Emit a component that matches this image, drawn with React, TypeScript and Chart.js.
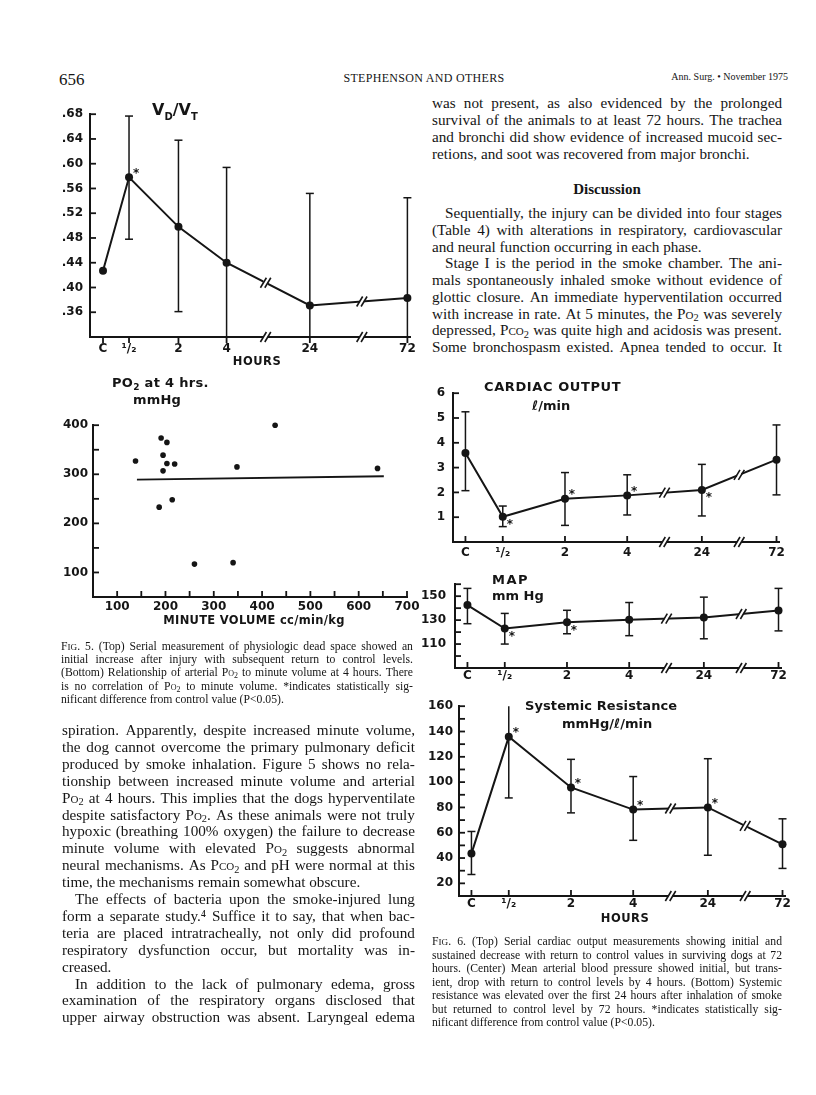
import React, { useEffect, useRef } from 'react';
import { Chart, registerables } from 'chart.js';

Chart.register(...registerables);

const INK = '#151515';
const SANS = '"DejaVu Sans", sans-serif';
const SERIF = '"Liberation Serif", "Times New Roman", serif';

// ---------------- data ----------------
const hourLabels = ['C', '¹/₂', '2', '4', '24', '72'];

// Fig 5 top: VD/VT
const vdSlots = [1, 3, 6.8, 10.5, 16.9, 24.4];
const vdBreaks = [13.5, 20.9];
const vdMean = [0.427, 0.578, 0.498, 0.44, 0.371, 0.383];
const vdHigh = [null, 0.677, 0.638, 0.594, 0.552, 0.545];
const vdLow = [null, 0.478, 0.361, 0.286, 0.19, 0.221];
const vdSig = ['', 'ur', '', '', '', ''];
const vdTicks = [0.36, 0.4, 0.44, 0.48, 0.52, 0.56, 0.6, 0.64, 0.68];

// Fig 5 bottom: PO2 vs minute volume
const minuteVolume = [138, 191, 203, 195, 203, 219, 195, 214, 187, 260, 340, 348, 427, 639];
const po2At4h = [327, 374, 365, 339, 322, 321, 307, 248, 233, 117, 120, 315, 400, 312];
const fitMinuteVolume = [141, 652];
const fitPo2 = [289, 296];
const mvTicks = [100, 200, 300, 400, 500, 600, 700];
const mvMarks = [100, 150, 200, 250, 300, 350, 400, 450, 500, 550, 600, 650, 700];
const po2Ticks = [100, 200, 300, 400];
const po2Marks = [100, 150, 200, 250, 300, 350, 400];

// Fig 6 shared hour axis
const hourSlots = [1, 4, 9, 14, 20, 26];
const hourBreaks = [17, 23];

// Cardiac output
const coMean = [3.59, 1.02, 1.74, 1.88, 2.1, 3.32];
const coHigh = [5.25, 1.45, 2.8, 2.71, 3.13, 4.72];
const coLow = [2.07, 0.62, 0.67, 1.09, 1.05, 1.9];
const coSig = ['', 'lr', 'ur', 'ur', 'lr', ''];
const coTicks = [1, 2, 3, 4, 5, 6];

// MAP
const mapMean = [142.6, 123, 128.3, 130.4, 132.2, 138];
const mapHigh = [156.5, 135.6, 138.2, 144.7, 149.2, 156.5];
const mapLow = [127, 110, 118.6, 117, 114.4, 121];
const mapSig = ['', 'lr', 'lr', '', '', ''];
const mapTicks = [110, 130, 150];
const mapMarks = [100, 110, 120, 130, 140, 150, 160];

// Systemic resistance
const srMean = [43.5, 135.8, 95.8, 78.3, 80, 50.8];
const srHigh = [61, 184, 118, 104.4, 118.5, 71];
const srLow = [27, 87.5, 75.7, 54, 42.2, 31.8];
const srSig = ['', 'ur', 'ur', 'ur', 'ur', ''];
const srTicks = [20, 40, 60, 80, 100, 120, 140, 160];
const srMarks = [20, 30, 40, 50, 60, 70, 80, 90, 100, 110, 120, 130, 140, 150, 160];

// ---------------- text ----------------
const rightTop = [
  'was not present, as also evidenced by the prolonged',
  'survival of the animals to at least 72 hours. The trachea',
  'and bronchi did show evidence of increased mucoid sec-',
  'retions, and soot was recovered from major bronchi.\n',
];
const rightDisc = [
  '\tSequentially, the injury can be divided into four stages',
  '(Table 4) with alterations in respiratory, cardiovascular',
  'and neural function occurring in each phase.\n',
  '\tStage I is the period in the smoke chamber. The ani-',
  'mals spontaneously inhaled smoke without evidence of',
  'glottic closure. An immediate hyperventilation occurred',
  'with increase in rate. At 5 minutes, the Po₂ was severely',
  'depressed, Pco₂ was quite high and acidosis was present.',
  'Some bronchospasm existed. Apnea tended to occur. It',
];
const leftBody = [
  'spiration. Apparently, despite increased minute volume,',
  'the dog cannot overcome the primary pulmonary deficit',
  'produced by smoke inhalation. Figure 5 shows no rela-',
  'tionship between increased minute volume and arterial',
  'Po₂ at 4 hours. This implies that the dogs hyperventilate',
  'despite satisfactory Po₂. As these animals were not truly',
  'hypoxic (breathing 100% oxygen) the failure to decrease',
  'minute volume with elevated Po₂ suggests abnormal',
  'neural mechanisms. As Pco₂ and pH were normal at this',
  'time, the mechanisms remain somewhat obscure.\n',
  '\tThe effects of bacteria upon the smoke-injured lung',
  'form a separate study.⁴ Suffice it to say, that when bac-',
  'teria are placed intratracheally, not only did profound',
  'respiratory dysfunction occur, but mortality was in-',
  'creased.\n',
  '\tIn addition to the lack of pulmonary edema, gross',
  'examination of the respiratory organs disclosed that',
  'upper airway obstruction was absent. Laryngeal edema',
];
const fig5Caption = [
  'FIG. 5. (Top) Serial measurement of physiologic dead space showed an',
  'initial increase after injury with subsequent return to control levels.',
  '(Bottom) Relationship of arterial Po₂ to minute volume at 4 hours. There',
  'is no correlation of Po₂ to minute volume. *indicates statistically sig-',
  'nificant difference from control value (P<0.05).\n',
];
const fig6Caption = [
  'FIG. 6. (Top) Serial cardiac output measurements showing initial and',
  'sustained decrease with return to control values in surviving dogs at 72',
  'hours. (Center) Mean arterial blood pressure showed initial, but trans-',
  'ient, drop with return to control levels by 4 hours. (Bottom) Systemic',
  'resistance was elevated over the first 24 hours after inhalation of smoke',
  'but returned to control level by 72 hours. *indicates statistically sig-',
  'nificant difference from control value (P<0.05).\n',
];

// ---------------- chart helpers ----------------
function seg(ctx: any, x1: number, y1: number, x2: number, y2: number) {
  ctx.beginPath();
  ctx.moveTo(x1, y1);
  ctx.lineTo(x2, y2);
  ctx.stroke();
}

function breakMark(ctx: any, x: number, y: number) {
  ctx.save();
  ctx.fillStyle = '#fff';
  ctx.fillRect(x - 2, y - 3, 4, 6);
  ctx.strokeStyle = INK;
  ctx.lineWidth = 1.6;
  for (const o of [-2.2, 2.2]) seg(ctx, x + o - 3, y + 5, x + o + 3, y - 5);
  ctx.restore();
}

type DecorSpec = {
  xKey?: number[];
  mean?: number[];
  hi?: (number | null)[];
  lo?: (number | null)[];
  sig?: string[];
  breaks?: number[];
  xMarks: number[];
  xMarkDir: number;
  yMarks: number[];
};

function makeDecor(d: DecorSpec) {
  return {
    id: 'decor',
    beforeDatasetsDraw(chart: any) {
      const { ctx, chartArea: a } = chart;
      const xs = chart.scales.x;
      const ys = chart.scales.y;
      if (!d.hi || !d.lo || !d.xKey) return;
      ctx.save();
      ctx.strokeStyle = INK;
      ctx.lineWidth = 1.5;
      d.xKey.forEach((xv, i) => {
        const h = d.hi![i];
        const l = d.lo![i];
        if (h == null || l == null) return;
        const px = xs.getPixelForValue(xv);
        const ph = ys.getPixelForValue(h);
        const pl = ys.getPixelForValue(l);
        const top = Math.max(ph, a.top);
        const bot = Math.min(pl, a.bottom);
        seg(ctx, px, top, px, bot);
        if (ph >= a.top - 0.5) seg(ctx, px - 4, top, px + 4, top);
        if (pl <= a.bottom + 0.5) seg(ctx, px - 4, bot, px + 4, bot);
      });
      ctx.restore();
    },
    afterDatasetsDraw(chart: any) {
      const { ctx, chartArea: a } = chart;
      const xs = chart.scales.x;
      const ys = chart.scales.y;
      ctx.save();
      ctx.strokeStyle = INK;
      ctx.lineWidth = 1.8;
      d.yMarks.forEach((v) => {
        const py = ys.getPixelForValue(v);
        seg(ctx, a.left, py, a.left + 6, py);
      });
      d.xMarks.forEach((v) => {
        const px = xs.getPixelForValue(v);
        seg(ctx, px, a.bottom, px, a.bottom + 6 * d.xMarkDir);
      });
      ctx.restore();
      if (d.breaks && d.xKey && d.mean) {
        const k = d.xKey;
        const m = d.mean;
        d.breaks.forEach((b) => {
          const px = xs.getPixelForValue(b);
          breakMark(ctx, px, a.bottom);
          for (let i = 0; i < k.length - 1; i++) {
            if (k[i] < b && b < k[i + 1]) {
              const t = (b - k[i]) / (k[i + 1] - k[i]);
              const yv = m[i] + t * (m[i + 1] - m[i]);
              breakMark(ctx, px, ys.getPixelForValue(yv));
            }
          }
        });
      }
      if (d.sig && d.xKey && d.mean) {
        ctx.save();
        ctx.fillStyle = INK;
        ctx.font = `bold 12px ${SANS}`;
        ctx.textAlign = 'center';
        ctx.textBaseline = 'alphabetic';
        d.sig.forEach((s, i) => {
          if (!s) return;
          const px = xs.getPixelForValue(d.xKey![i]);
          const py = ys.getPixelForValue(d.mean![i]);
          const cy = s === 'ur' ? py - 7 : py + 5;
          ctx.fillText('*', px + 7, cy + 6.5);
        });
        ctx.restore();
      }
    },
  };
}

type AxisDef = { min: number; max: number; ticks: number[]; fmt: (v: number) => string; size: number; pad: number; font?: number };

function scaleCfg(axis: 'x' | 'y', a: AxisDef) {
  return {
    type: 'linear',
    position: axis === 'x' ? 'bottom' : 'left',
    min: a.min,
    max: a.max,
    afterBuildTicks: (s: any) => {
      s.ticks = a.ticks.map((v) => ({ value: v }));
    },
    afterFit: (s: any) => {
      if (axis === 'x') s.height = a.size;
      else s.width = a.size;
    },
    ticks: {
      callback: (v: any) => a.fmt(Number(v)),
      font: { family: SANS, size: a.font || 12, weight: 'bold' },
      color: INK,
      padding: a.pad,
      autoSkip: false,
      maxRotation: 0,
      minRotation: 0,
    },
    grid: { display: true, drawOnChartArea: false, drawTicks: false },
    border: { display: true, color: INK, width: 2 },
  };
}

function baseOptions(padding: any, x: AxisDef, y: AxisDef) {
  return {
    responsive: false,
    animation: false,
    events: [],
    layout: { padding },
    plugins: { legend: { display: false }, tooltip: { enabled: false } },
    scales: { x: scaleCfg('x', x), y: scaleCfg('y', y) },
  };
}

const hourFmt = (slots: number[]) => (v: number) => {
  const i = slots.indexOf(v);
  return i >= 0 ? hourLabels[i] : '';
};

function lineDataset(slots: number[], mean: number[]) {
  return {
    data: slots.map((x, i) => ({ x, y: mean[i] })),
    borderColor: INK,
    backgroundColor: INK,
    borderWidth: 2,
    pointRadius: 4,
    pointBackgroundColor: INK,
    pointBorderWidth: 0,
    tension: 0,
    clip: false,
  };
}

function hourChart(opts: {
  mean: number[]; hi: (number | null)[]; lo: (number | null)[]; sig: string[];
  slots: number[]; breaks: number[]; xmax: number; xsize: number; xpad: number;
  ymin: number; ymax: number; yticks: number[]; ymarks: number[]; yfmt: (v: number) => string;
  ysize: number; ypad: number; padding: any; xdir: number;
}) {
  return () => ({
    type: 'line',
    data: { datasets: [lineDataset(opts.slots, opts.mean)] },
    options: baseOptions(
      opts.padding,
      { min: 0, max: opts.xmax, ticks: opts.slots, fmt: hourFmt(opts.slots), size: opts.xsize, pad: opts.xpad },
      { min: opts.ymin, max: opts.ymax, ticks: opts.yticks, fmt: opts.yfmt, size: opts.ysize, pad: opts.ypad }
    ),
    plugins: [
      makeDecor({
        xKey: opts.slots, mean: opts.mean, hi: opts.hi, lo: opts.lo, sig: opts.sig,
        breaks: opts.breaks, xMarks: opts.slots, xMarkDir: opts.xdir, yMarks: opts.ymarks,
      }),
    ],
  });
}

const vdChart = hourChart({
  mean: vdMean, hi: vdHigh, lo: vdLow, sig: vdSig, slots: vdSlots, breaks: vdBreaks,
  xmax: 24.6, xsize: 35, xpad: 5, ymin: 0.32, ymax: 0.68, yticks: vdTicks, ymarks: vdTicks,
  yfmt: (v) => v.toFixed(2).slice(1), ysize: 50, ypad: 7,
  padding: { top: 12, right: 15, left: 0, bottom: 0 }, xdir: 1,
});

const coChart = hourChart({
  mean: coMean, hi: coHigh, lo: coLow, sig: coSig, slots: hourSlots, breaks: hourBreaks,
  xmax: 26.2, xsize: 18, xpad: 3.5, ymin: 0, ymax: 6, yticks: coTicks, ymarks: coTicks,
  yfmt: (v) => String(v), ysize: 33, ypad: 8,
  padding: { top: 11, right: 16, left: 0, bottom: 0 }, xdir: -1,
});

const mapChart = hourChart({
  mean: mapMean, hi: mapHigh, lo: mapLow, sig: mapSig, slots: hourSlots, breaks: hourBreaks,
  xmax: 26.2, xsize: 22, xpad: 0.5, ymin: 90, ymax: 160, yticks: mapTicks, ymarks: mapMarks,
  yfmt: (v) => String(v), ysize: 35, ypad: 9,
  padding: { top: 12, right: 14, left: 0, bottom: 0 }, xdir: -1,
});

const srChart = hourChart({
  mean: srMean, hi: srHigh, lo: srLow, sig: srSig, slots: hourSlots, breaks: hourBreaks,
  xmax: 26.2, xsize: 19, xpad: 0.5, ymin: 10, ymax: 160, yticks: srTicks, ymarks: srMarks,
  yfmt: (v) => String(v), ysize: 39, ypad: 6,
  padding: { top: 12, right: 10, left: 0, bottom: 0 }, xdir: -1,
});

const po2Chart = () => ({
  type: 'scatter',
  data: {
    datasets: [
      {
        data: minuteVolume.map((x, i) => ({ x, y: po2At4h[i] })),
        pointRadius: 2.8,
        pointBackgroundColor: INK,
        pointBorderWidth: 0,
        clip: false,
      },
      {
        type: 'line',
        data: fitMinuteVolume.map((x, i) => ({ x, y: fitPo2[i] })),
        borderColor: INK,
        borderWidth: 1.8,
        pointRadius: 0,
        showLine: true,
        clip: false,
      },
    ],
  },
  options: baseOptions(
    { top: 10, right: 18, left: 0, bottom: 0 },
    { min: 50, max: 700, ticks: mvTicks, fmt: (v) => String(v), size: 26, pad: 3 },
    { min: 50, max: 400, ticks: po2Ticks, fmt: (v) => String(v), size: 53, pad: 5 }
  ),
  plugins: [makeDecor({ xMarks: mvMarks, xMarkDir: -1, yMarks: po2Marks })],
});

// ---------------- components ----------------
function ChartBox({ left, top, width, height, make }: any) {
  const ref = useRef<HTMLCanvasElement>(null);
  useEffect(() => {
    const c = new Chart(ref.current as HTMLCanvasElement, make());
    return () => c.destroy();
  }, []);
  return (
    <canvas
      ref={ref}
      width={width}
      height={height}
      style={{ position: 'absolute', left, top, width, height }}
    />
  );
}

function Label({ x, y, children, size = 13, anchor = 'left', ls = 0, weight = 700, family = SANS }: any) {
  const tx = anchor === 'center' ? '-50%' : anchor === 'right' ? '-100%' : '0';
  return (
    <div
      style={{
        position: 'absolute', left: x, top: y, transform: `translate(${tx}, -50%)`,
        fontFamily: family, fontSize: size, fontWeight: weight, letterSpacing: ls,
        lineHeight: 1, whiteSpace: 'nowrap', color: INK,
      }}
    >
      {children}
    </div>
  );
}

function renderToken(tok: string, key: number) {
  const m = tok.match(/^(.*?)P(co|o)₂(.*)$/);
  if (m) {
    return (
      <span key={key}>
        {m[1]}P<span style={{ fontVariant: 'small-caps' }}>{m[2]}</span>
        <span style={{ fontSize: '0.68em', position: 'relative', top: '0.25em' }}>2</span>
        {m[3]}
      </span>
    );
  }
  if (tok === 'FIG.') {
    return (
      <span key={key}>
        F<span style={{ fontSize: '0.78em' }}>IG</span>.
      </span>
    );
  }
  return <span key={key}>{tok}</span>;
}

function TextBlock({ lines, x, w, y0, dy, size, indent = 13, weight = 400 }: any) {
  return (
    <>
      {lines.map((raw: string, li: number) => {
        let s = raw;
        let ind = 0;
        let last = false;
        if (s.startsWith('\t')) { ind = indent; s = s.slice(1); }
        if (s.endsWith('\n')) { last = true; s = s.slice(0, -1); }
        const toks = s.split(' ');
        const lh = Math.round(size * 1.2);
        const style: any = {
          position: 'absolute', left: x + ind, width: w - ind, top: y0 + li * dy - lh / 2 - 1,
          height: lh, lineHeight: lh + 'px', fontSize: size, fontFamily: SERIF, color: INK,
          whiteSpace: 'nowrap', fontWeight: weight,
        };
        if (last) {
          return (
            <div key={li} style={style}>
              {toks.map((t, i) => (
                <React.Fragment key={i}>{i ? ' ' : ''}{renderToken(t, i)}</React.Fragment>
              ))}
            </div>
          );
        }
        return (
          <div key={li} style={{ ...style, display: 'flex', justifyContent: 'space-between' }}>
            {toks.map((t, i) => renderToken(t, i))}
          </div>
        );
      })}
    </>
  );
}

export default function App() {
  return (
    <div
      style={{
        position: 'absolute', left: 0, top: 0, width: 816, height: 1095,
        background: '#fff', overflow: 'hidden', color: INK,
      }}
    >
      {/* running head */}
      <Label x={59} y={79} size={17} weight={400} family={SERIF}>656</Label>
      <Label x={424} y={78} size={12} weight={400} family={SERIF} anchor="center" ls={0.3}>
        STEPHENSON AND OTHERS
      </Label>
      <Label x={788} y={77} size={10} weight={400} family={SERIF} anchor="right">
        Ann. Surg. • November 1975
      </Label>

      {/* Fig 5 top */}
      <ChartBox left={40} top={100} width={385} height={272} make={vdChart} />
      <Label x={152} y={110} size={16}>
        V<span style={{ fontSize: 10, position: 'relative', top: 5 }}>D</span>/V
        <span style={{ fontSize: 10, position: 'relative', top: 5 }}>T</span>
      </Label>
      <Label x={257} y={362} size={11.5} anchor="center" ls={0.5}>HOURS</Label>

      {/* Fig 5 bottom */}
      <ChartBox left={40} top={413} width={385} height={210} make={po2Chart} />
      <Label x={112} y={382} size={13} ls={0.3}>
        PO<span style={{ fontSize: 9, position: 'relative', top: 3 }}>2</span> at 4 hrs.
      </Label>
      <Label x={133} y={399} size={13} ls={0.2}>mmHg</Label>
      <Label x={254} y={621} size={11.5} anchor="center" ls={0.3}>MINUTE VOLUME cc/min/kg</Label>

      <TextBlock lines={fig5Caption} x={61} w={352} y0={648} dy={13.2} size={11.7} />
      <TextBlock lines={leftBody} x={62} w={353} y0={731} dy={16.9} size={15.2} />

      {/* right column text */}
      <TextBlock lines={rightTop} x={432} w={350} y0={104} dy={16.9} size={15.2} />
      <Label x={607} y={189} size={15} weight={700} family={SERIF} anchor="center">Discussion</Label>
      <TextBlock lines={rightDisc} x={432} w={350} y0={214} dy={16.75} size={15.2} />

      {/* Fig 6 top: cardiac output */}
      <ChartBox left={420} top={378} width={375} height={182} make={coChart} />
      <Label x={484} y={386} size={13} ls={0.6}>CARDIAC OUTPUT</Label>
      <Label x={532} y={405} size={13}>ℓ/min</Label>

      {/* Fig 6 center: MAP */}
      <ChartBox left={420} top={568} width={375} height={122} make={mapChart} />
      <Label x={492} y={579} size={13} ls={1.5}>MAP</Label>
      <Label x={492} y={595} size={13}>mm Hg</Label>

      {/* Fig 6 bottom: systemic resistance */}
      <ChartBox left={420} top={693} width={375} height={222} make={srChart} />
      <Label x={525} y={705} size={13} ls={0.1}>Systemic Resistance</Label>
      <Label x={562} y={723} size={13}>mmHg/ℓ/min</Label>
      <Label x={625} y={919} size={11.5} anchor="center" ls={0.5}>HOURS</Label>

      <TextBlock lines={fig6Caption} x={432} w={350} y0={943} dy={13.5} size={11.7} />
    </div>
  );
}
